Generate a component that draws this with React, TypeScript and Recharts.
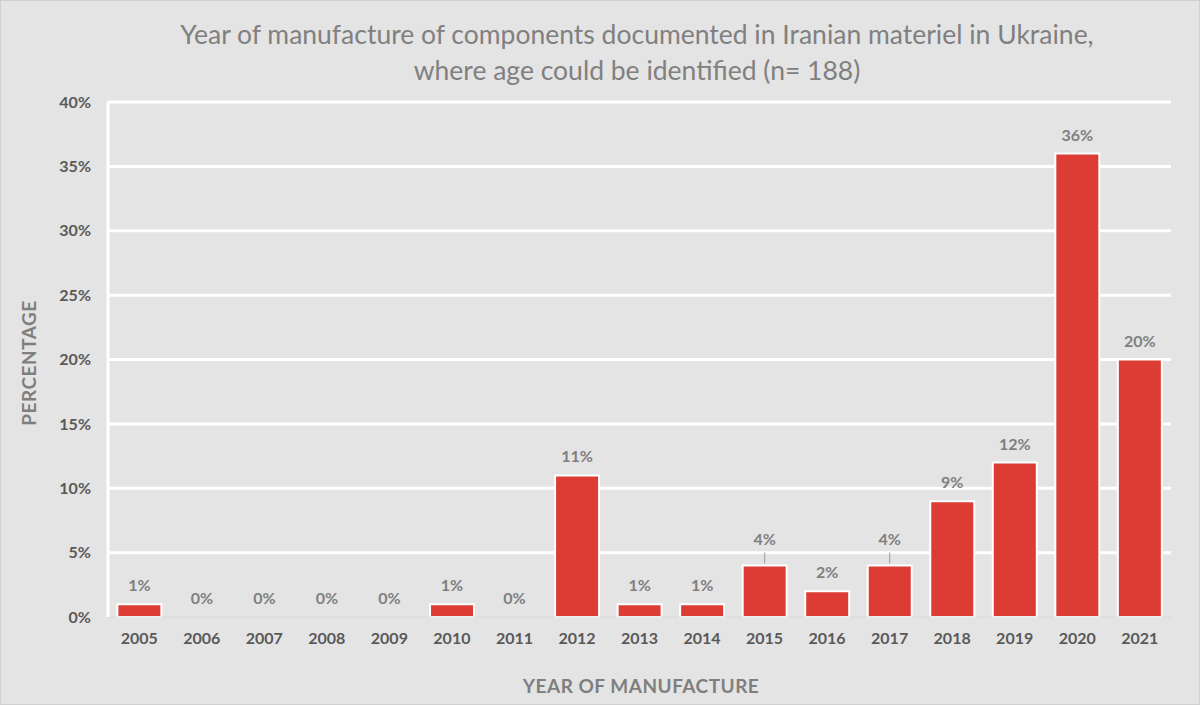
import React from 'react';
import { BarChart, Bar, XAxis, YAxis, CartesianGrid, LabelList, Cell } from 'recharts';

const years = ['2005', '2006', '2007', '2008', '2009', '2010', '2011', '2012', '2013', '2014', '2015', '2016', '2017', '2018', '2019', '2020', '2021'];
const shares = [1, 0, 0, 0, 0, 1, 0, 11, 1, 1, 4, 2, 4, 9, 12, 36, 20];
const yTicks = [0, 5, 10, 15, 20, 25, 30, 35, 40];
// labels that sit on a gridline get pulled up with a small leader line
const raisedLabels = ['2015', '2017'];

const titleLines = [
  'Year of manufacture of components documented in Iranian materiel in Ukraine,',
  'where age could be identified (n= 188)',
];

const data = years.map((year, i) => ({ year, share: shares[i] }));

const FONT = 'Lato, "Open Sans", sans-serif';

const ValueLabel = (props: any) => {
  const { x, y, width, value, index } = props;
  const cx = x + width / 2;
  const raised = raisedLabels.includes(years[index]);
  const ty = raised ? y - 17 : y - 9;
  return (
    <g>
      {raised && <line x1={cx} x2={cx} y1={y - 2} y2={y - 13} stroke="#9a9a9a" strokeWidth={1} />}
      <text
        x={cx}
        y={ty - 4}
        textAnchor="middle"
        fill="#7f7f7f"
        fontSize={16}
        fontWeight={700}
        fontFamily={FONT}
      >
        {`${value}%`}
      </text>
    </g>
  );
};

export default function App() {
  return (
    <div
      style={{
        position: 'relative',
        width: 1200,
        height: 705,
        background: '#e4e4e4',
        border: '1px solid #cfcfcf',
        boxSizing: 'border-box',
        fontFamily: FONT,
        overflow: 'hidden',
      }}
    >
      <style>{'body{margin:0}'}</style>
      <div
        style={{
          position: 'absolute',
          left: 0,
          width: 1272,
          top: 15,
          textAlign: 'center',
          color: '#808080',
          fontSize: 26.5,
          lineHeight: '36px',
        }}
      >
        {titleLines.map((t) => (
          <div key={t}>{t}</div>
        ))}
      </div>
      <div
        style={{
          position: 'absolute',
          left: 27,
          top: 362,
          transform: 'translate(-50%, -50%) rotate(-90deg)',
          color: '#7f7f7f',
          fontWeight: 700,
          fontSize: 19,
          letterSpacing: 0.5,
          whiteSpace: 'nowrap',
        }}
      >
        PERCENTAGE
      </div>
      <div
        style={{
          position: 'absolute',
          left: 640,
          top: 684,
          transform: 'translate(-50%, -50%)',
          color: '#7f7f7f',
          fontWeight: 700,
          fontSize: 19,
          letterSpacing: 0.5,
          whiteSpace: 'nowrap',
        }}
      >
        YEAR OF MANUFACTURE
      </div>
      <div style={{ position: 'absolute', left: 0, top: 0 }}>
        <BarChart
          width={1200}
          height={705}
          data={data}
          margin={{ top: 101, right: 30, bottom: 29, left: 27 }}
          barCategoryGap="15%"
        >
          <CartesianGrid vertical={false} stroke="#ffffff" strokeWidth={3} horizontalValues={[5, 10, 15, 20, 25, 30, 35, 40]} />
          <XAxis
            dataKey="year"
            height={60}
            axisLine={{ stroke: '#d8d8d8', strokeWidth: 1 }}
            tickLine={false}
            tickSize={0}
            tickMargin={16}
            tick={{ fill: '#595959', fontSize: 16, fontWeight: 700, fontFamily: FONT }}
            interval={0}
          />
          <YAxis
            width={80}
            domain={[0, 40]}
            ticks={yTicks}
            tickFormatter={(v) => `${v}%`}
            axisLine={{ stroke: '#ffffff', strokeWidth: 3 }}
            tickLine={false}
            tickSize={0}
            tickMargin={17}
            tick={{ fill: '#595959', fontSize: 16, fontWeight: 700, fontFamily: FONT }}
          />
          <Bar
            dataKey="share"
            fill="#dc3c33"
            stroke="#ffffff"
            strokeWidth={2}
            minPointSize={0.01}
            isAnimationActive={false}
          >
            {data.map((d) => (
              <Cell key={d.year} stroke={d.share === 0 ? 'none' : '#ffffff'} />
            ))}
            <LabelList dataKey="share" content={<ValueLabel />} />
          </Bar>
        </BarChart>
      </div>
    </div>
  );
}
